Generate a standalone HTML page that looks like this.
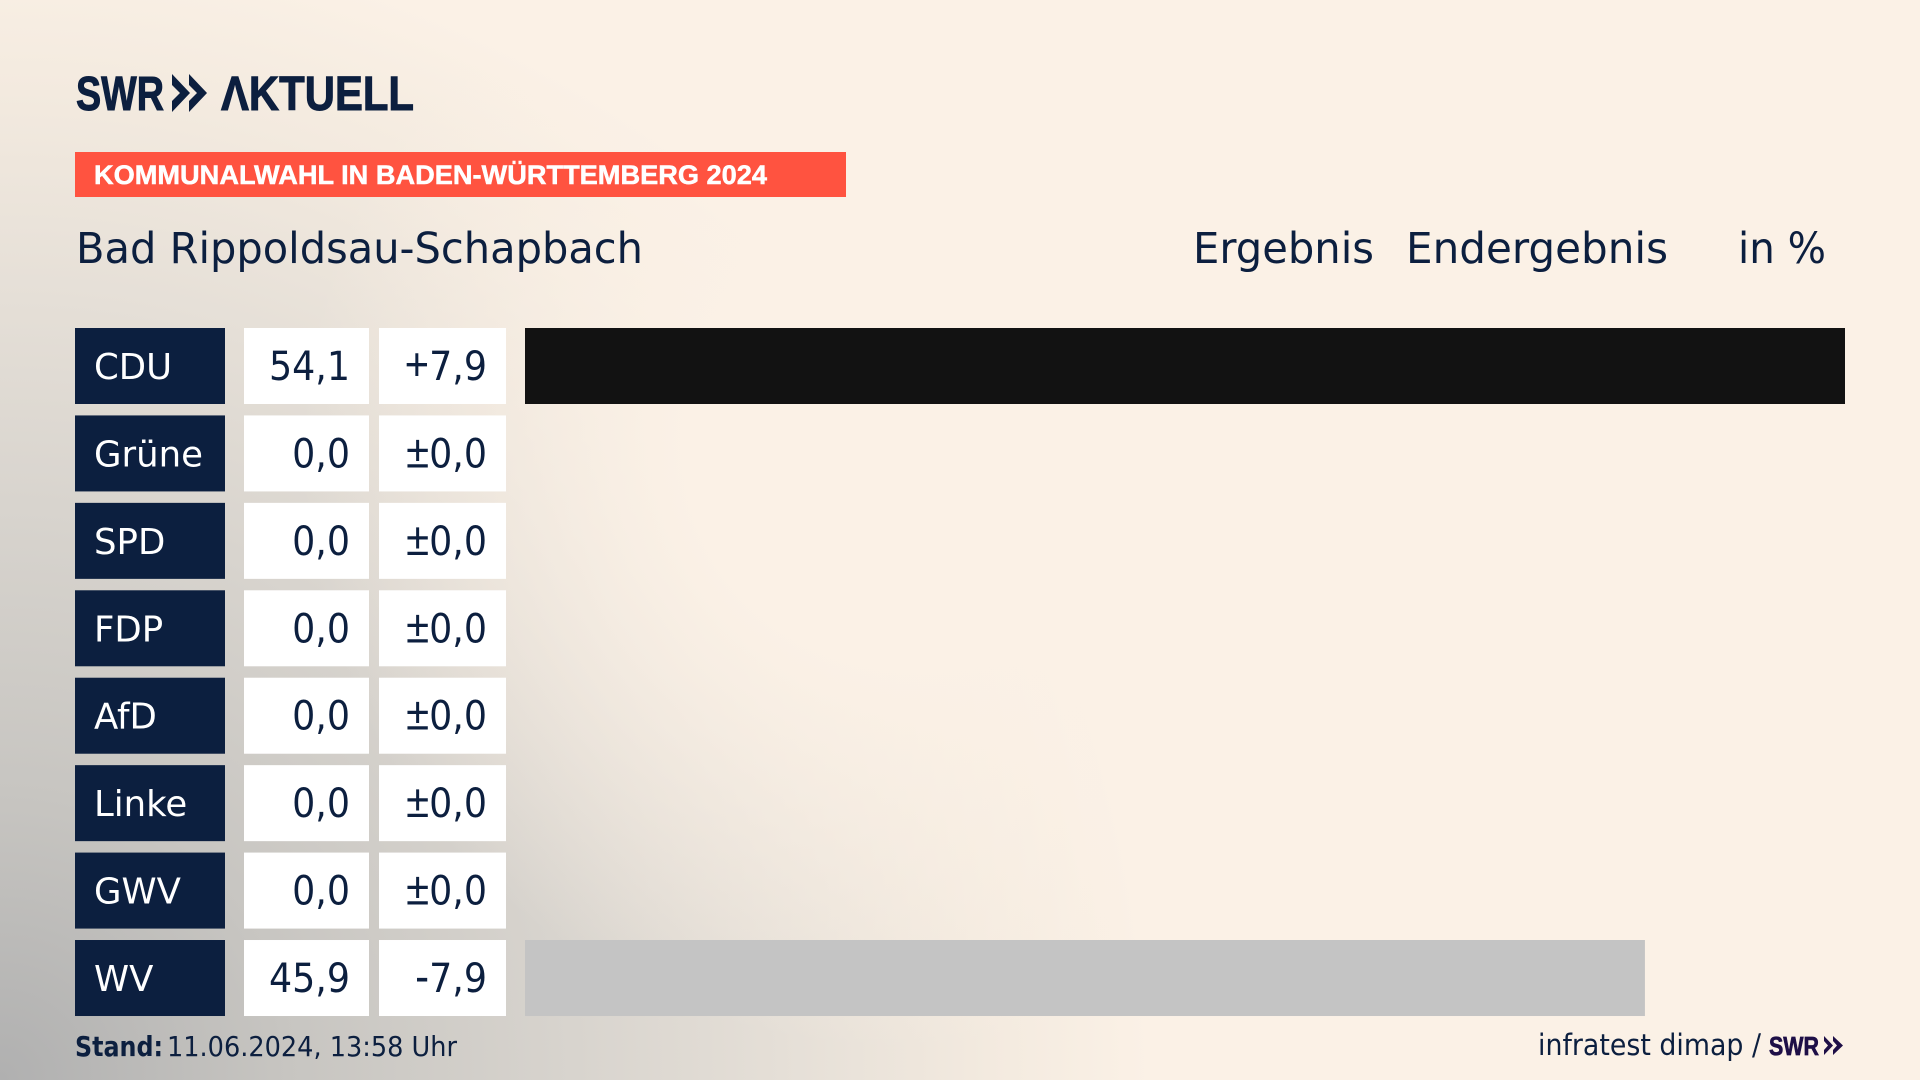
<!DOCTYPE html>
<html lang="de">
<head>
<meta charset="utf-8">
<title>Kommunalwahl Bad Rippoldsau-Schapbach</title>
<style>
  html, body { margin: 0; padding: 0; width: 1920px; height: 1080px; overflow: hidden; background: #fbf1e6; }
  #backdrop {
    position: absolute; left: 0; top: 0; width: 1920px; height: 1080px;
    background:
      radial-gradient(circle 600px at 900px 450px,
        rgba(251,241,230,1) 0%,
        rgba(251,241,230,1) 35%,
        rgba(251,241,230,0) 100%),
      radial-gradient(circle 1150px at 0px 1080px,
        #b0b0b0 0%,
        #c7c5c1 25%,
        #d8d4ce 50%,
        #e5dfd7 68%,
        #f3eadf 86%,
        #fbf1e6 100%);
  }
  svg { position: absolute; left: 0; top: 0; }
  text { font-family: "DejaVu Sans", "Liberation Sans", sans-serif; fill: #0c1f3f; }
  .logo { font-family: "Liberation Sans", sans-serif; font-weight: 700; stroke: #0c1f3f; stroke-width: 1px; }
</style>
</head>
<body>
<div id="backdrop"></div>
<svg id="chart" width="1920" height="1080" viewBox="0 0 1920 1080" xmlns="http://www.w3.org/2000/svg">
  <g>
    <text class="logo" x="76" y="110" font-size="48" textLength="88" lengthAdjust="spacingAndGlyphs">SWR</text>
    <polygon points="172,74 190,93 172,112 172,101 180,93 172,85" fill="#0c1f3f"/>
    <polygon points="189,74 207,93 189,112 189,101 197,93 189,85" fill="#0c1f3f"/>
    <text class="logo" x="221" y="110" font-size="48" textLength="193" lengthAdjust="spacingAndGlyphs">ΛKTUELL</text>
  </g>

  <rect x="75" y="152" width="771" height="45" fill="#ff5340"/>
  <text x="94" y="184" font-size="27" font-weight="700" textLength="673" lengthAdjust="spacingAndGlyphs" stroke="#ffffff" stroke-width="0.5" style="font-family:'Liberation Sans',sans-serif;fill:#fff">KOMMUNALWAHL IN BADEN-WÜRTTEMBERG 2024</text>

  <text x="76" y="263" font-size="43" textLength="567" lengthAdjust="spacingAndGlyphs">Bad Rippoldsau-Schapbach</text>
  <text x="1193" y="263" font-size="43" textLength="181" lengthAdjust="spacingAndGlyphs">Ergebnis</text>
  <text x="1406" y="263" font-size="43" textLength="262" lengthAdjust="spacingAndGlyphs">Endergebnis</text>
  <text x="1738" y="263" font-size="43" textLength="88" lengthAdjust="spacingAndGlyphs">in %</text>

  <g id="rows"></g>

  <text x="75" y="1056" font-size="28" font-weight="700" textLength="88" lengthAdjust="spacingAndGlyphs">Stand:</text>
  <text x="167" y="1056" font-size="28" textLength="290" lengthAdjust="spacingAndGlyphs">11.06.2024, 13:58 Uhr</text>
  <text x="1538" y="1055" font-size="29" textLength="223" lengthAdjust="spacingAndGlyphs">infratest dimap /</text>
  <g>
    <text class="logo" x="1769" y="1055" font-size="26" textLength="50" lengthAdjust="spacingAndGlyphs" style="fill:#1e0f47;stroke:#1e0f47;stroke-width:0.7px">SWR</text>
    <polygon points="1824,1036 1833,1045.5 1824,1055 1824,1050 1828,1045.5 1824,1041" fill="#1e0f47"/>
    <polygon points="1833,1036 1843,1045.5 1833,1055 1833,1050 1837,1045.5 1833,1041" fill="#1e0f47"/>
  </g>
</svg>

<script>
const parties = ["CDU", "Grüne", "SPD", "FDP", "AfD", "Linke", "GWV", "WV"];
const shares = [54.1, 0.0, 0.0, 0.0, 0.0, 0.0, 0.0, 45.9];
const changes = [7.9, 0.0, 0.0, 0.0, 0.0, 0.0, 0.0, -7.9];

const BAR_X0 = 525;
const PX_PER_POINT = 1320 / 54.1;
const ROW_TOP = 328;
const ROW_PITCH = 87.43;
const ROW_H = 76;
const VALUE_CONDENSE = 0.91;
const NS = "http://www.w3.org/2000/svg";

function xScale(v) { return BAR_X0 + v * PX_PER_POINT; }
function yScale(i) { return ROW_TOP + i * ROW_PITCH; }
function fmtNumber(v) { return Math.abs(v).toFixed(1).replace(".", ","); }
function fmtShare(v) { return fmtNumber(v); }
function signOf(v) {
  if (v > 0) return "+";
  if (v < 0) return "-";
  return "±";
}
function barFill(i) {
  if (parties[i] === "CDU") return "#121212";
  return "#c4c4c4";
}
function makeRect(x, y, w, h, fill) {
  const r = document.createElementNS(NS, "rect");
  r.setAttribute("x", x);
  r.setAttribute("y", y);
  r.setAttribute("width", w);
  r.setAttribute("height", h);
  r.setAttribute("fill", fill);
  return r;
}
function makeText(x, y, str, size, anchor, fill) {
  const t = document.createElementNS(NS, "text");
  t.setAttribute("x", x);
  t.setAttribute("y", y);
  t.setAttribute("font-size", size);
  t.setAttribute("text-anchor", anchor);
  t.style.fill = fill;
  t.textContent = str;
  return t;
}
function condense(t) {
  const natural = t.getComputedTextLength();
  t.setAttribute("textLength", natural * VALUE_CONDENSE);
  t.setAttribute("lengthAdjust", "spacingAndGlyphs");
}

const rowsGroup = document.getElementById("rows");
parties.forEach(function (party, i) {
  const y = yScale(i);
  const slug = party.toLowerCase().replace("ü", "ue");

  const tile = makeRect(75, y, 150, ROW_H, "#0c1f3f");
  
  
  rowsGroup.appendChild(tile);

  const label = makeText(94, y + 51, party, 35.5, "start", "#ffffff");
  
  
  rowsGroup.appendChild(label);

  const shareBox = makeRect(244, y, 125, ROW_H, "#ffffff");
  
  
  rowsGroup.appendChild(shareBox);

  const shareText = makeText(350, y + 52, fmtShare(shares[i]), 40, "end", "#0c1f3f");
  
  
  rowsGroup.appendChild(shareText);
  condense(shareText);

  const changeBox = makeRect(379, y, 127, ROW_H, "#ffffff");
  
  
  rowsGroup.appendChild(changeBox);

  const changeText = makeText(487, y + 52, "", 40, "end", "#0c1f3f");
  const signSpan = document.createElementNS(NS, "tspan");
  signSpan.style.fontFamily = '"Liberation Sans", sans-serif';
  signSpan.style.fontSize = "46px";
  signSpan.textContent = signOf(changes[i]);
  changeText.appendChild(signSpan);
  changeText.appendChild(document.createTextNode(fmtNumber(changes[i])));
  
  
  rowsGroup.appendChild(changeText);
  condense(changeText);

  const bar = makeRect(xScale(0), y, xScale(shares[i]) - xScale(0), ROW_H, barFill(i));
  
  
  rowsGroup.appendChild(bar);
});
</script>
</body>
</html>
